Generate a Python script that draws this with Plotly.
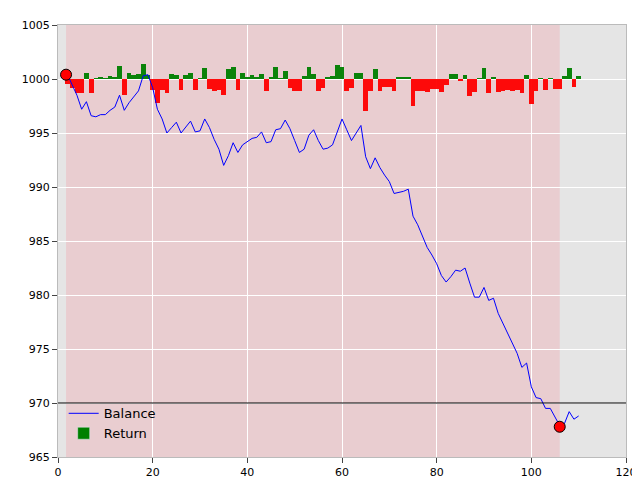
import plotly.graph_objects as go

steps = list(range(2, 111))
balance = [1000.4, 999.5, 998.5, 997.2, 997.9, 996.6, 996.5, 996.7, 996.7, 997.1,
           997.4, 998.5, 997.1, 997.8, 998.3, 998.9, 1000.3, 1000.4, 999.2, 997.2,
           996.3, 995.0, 995.5, 996.0, 995.0, 995.5, 996.1, 995.1, 995.2, 996.3,
           995.5, 994.4, 993.5, 992.0, 992.9, 994.1, 993.2, 993.9, 994.2, 994.5,
           994.6, 995.1, 994.1, 994.2, 995.3, 995.4, 996.2, 995.4, 994.3, 993.2,
           993.5, 994.8, 995.3, 994.3, 993.5, 993.6, 993.9, 995.2, 996.3, 995.3,
           994.3, 995.0, 995.7, 992.8, 991.7, 992.7, 991.8, 991.1, 990.5, 989.4,
           989.5, 989.6, 989.8, 987.3, 986.5, 985.5, 984.4, 983.7, 982.9, 981.8,
           981.2, 981.7, 982.3, 982.2, 982.5, 981.1, 979.8, 979.8, 980.7, 979.5,
           979.7, 978.3, 977.4, 976.5, 975.5, 974.6, 973.3, 973.7, 971.5, 970.5,
           970.4, 969.5, 969.5, 968.7, 967.9, 968.1, 969.2, 968.5, 968.8]
returns = [-0.5, -0.8, -1.3, -1.3, 0.6, -1.3, 0.05, 0.2, 0.05, 0.3,
           0.2, 1.2, -1.5, 0.6, 0.4, 0.5, 1.4, 0.4, -1.0, -2.2,
           -1.0, -1.3, 0.5, 0.4, -1.0, 0.4, 0.6, -1.0, 0.05, 1.0,
           -0.9, -1.1, -1.0, -1.5, 0.9, 1.1, -1.0, 0.6, 0.2, 0.4,
           0.1, 0.5, -1.1, 0.1, 1.1, 0.05, 0.7, -0.8, -1.1, -1.1,
           0.3, 1.1, 0.5, -1.1, -0.8, 0.1, 0.3, 1.3, 1.1, -1.1,
           -0.8, 0.6, 0.6, -3.0, -1.1, 0.9, -1.1, -0.7, -0.7, -1.1,
           0.1, 0.1, 0.2, -2.5, -1.1, -1.1, -1.2, -0.9, -0.9, -1.2,
           -0.6, 0.5, 0.5, -0.2, 0.4, -1.6, -1.2, 0.05, 1.0, -1.3,
           0.2, -1.2, -1.1, -1.0, -1.1, -1.0, -1.3, 0.4, -2.3, -1.1,
           0.05, -1.0, 0.05, -0.9, -0.9, 0.3, 1.0, -0.7, 0.3]
start_x, start_y = 1.7, 1000.4
end_x, end_y = 106, 967.8
shade_start, shade_end = 1.7, 106
hline = 970

colors = ["green" if r >= 0 else "red" for r in returns]

fig = go.Figure()
fig.add_trace(go.Bar(x=steps, y=returns, base=1000, marker_color=colors,
                     marker_line_width=0, width=1, showlegend=False, opacity=0.95))
# legend entry for the bars, drawn in green like the original
fig.add_trace(go.Bar(x=[None], y=[None], marker_color="green", name="Return"))
fig.add_trace(go.Scatter(x=steps, y=balance, mode="lines", name="Balance",
                         line=dict(color="blue", width=1)))
fig.add_trace(go.Scatter(x=[start_x, end_x], y=[start_y, end_y], mode="markers",
                         marker=dict(color="red", size=11, line=dict(color="black", width=1)),
                         showlegend=False))
fig.add_vrect(x0=shade_start, x1=shade_end, fillcolor="#e9cdd0", opacity=1,
              line_width=0, layer="below")
fig.add_hline(y=hline, line_color="black", line_width=1)

fig.update_layout(
    width=640, height=480, margin=dict(l=50, r=22, t=17, b=31, autoexpand=False),
    paper_bgcolor="white", plot_bgcolor="#e5e5e5",
    font=dict(family="DejaVu Sans", size=11, color="black"),
    bargap=0,
    legend=dict(x=0.01, y=0.02, xanchor="left", yanchor="bottom",
                bgcolor="rgba(0,0,0,0)", traceorder="reversed", font=dict(size=13)),
    xaxis=dict(range=[0, 120], dtick=20, showgrid=True, gridcolor="white",
               zeroline=False, ticks="outside", mirror=True, showline=True,
               linecolor="#bbbbbb", automargin=False),
    yaxis=dict(range=[965, 1005], dtick=5, showgrid=True, gridcolor="white",
               zeroline=False, ticks="outside", mirror=True, showline=True,
               linecolor="#bbbbbb", automargin=False),
)
fig.write_html("out.html")
